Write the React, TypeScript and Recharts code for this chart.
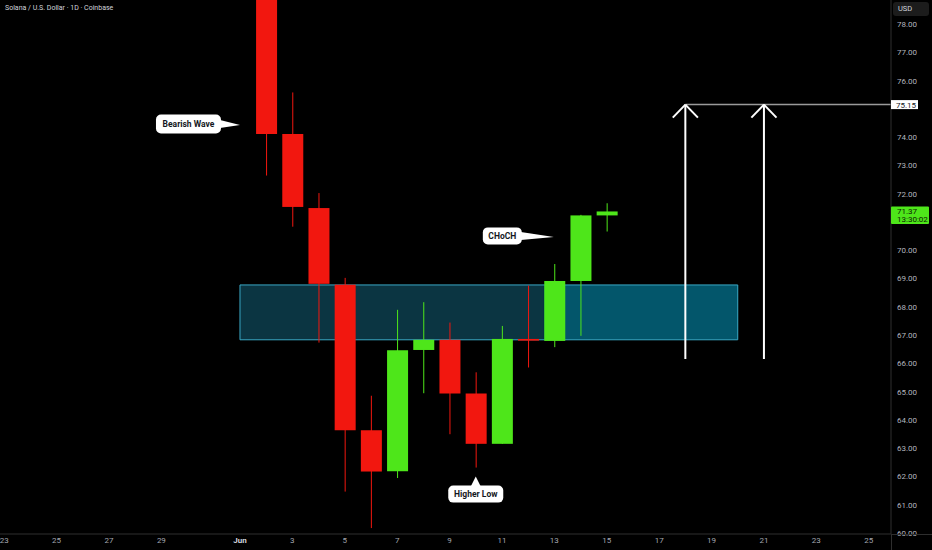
import React from 'react';
import {
  ComposedChart,
  Bar,
  XAxis,
  YAxis,
  ReferenceArea,
  ReferenceLine,
  ReferenceDot,
} from 'recharts';

// days counted from Jun 1 (= 0)
const days = [1, 2, 3, 4, 5, 6, 7, 8, 9, 10, 11, 12, 13, 14];
const opens = [80.3, 74.11, 71.49, 68.78, 63.63, 62.18, 66.47, 66.83, 64.93, 63.15, 66.86, 66.79, 68.91, 71.23];
const highs = [80.9, 75.58, 72.02, 69.02, 64.85, 67.89, 68.16, 67.44, 65.68, 67.32, 68.75, 69.51, 71.25, 71.66];
const lows = [72.64, 70.83, 66.73, 61.46, 60.17, 61.94, 64.94, 63.49, 62.31, 63.15, 65.85, 66.57, 66.97, 70.66];
const closes = [74.11, 71.53, 68.81, 63.63, 62.17, 66.46, 66.83, 64.93, 63.15, 66.86, 66.8, 68.91, 71.23, 71.37];

const xTicks = [-9, -7, -5, -3, 0, 2, 4, 6, 8, 10, 12, 14, 16, 18, 20, 22, 24];
const xTickLabels = ['23', '25', '27', '29', 'Jun', '3', '5', '7', '9', '11', '13', '15', '17', '19', '21', '23', '25'];
// 71.00 and 75.00 sit under the price badges
const priceTicks = [60, 61, 62, 63, 64, 65, 66, 67, 68, 69, 70, 72, 73, 74, 76, 77, 78];

const zone = { from: 0, split: 11.6, to: 19, low: 66.83, high: 68.77 };
const target = 75.15;
const lastPrice = 71.37;
const countdown = '13:30:02';
const arrowDays = [17, 20];
const arrowBase = 66.15;

const RED = '#f2170f';
const GREEN = '#4ee61a';

const candles = days.map((d, i) => ({
  day: d,
  o: opens[i],
  h: highs[i],
  l: lows[i],
  c: closes[i],
  range: [lows[i], highs[i]],
}));

const Candle = (props: any) => {
  const { x, y, width, height, payload } = props;
  const { o, h, l, c } = payload;
  const top = Math.min(y, y + height);
  const span = Math.abs(height);
  const ppu = span / (h - l);
  const bodyTop = top + (h - Math.max(o, c)) * ppu;
  const bodyH = Math.max(1, Math.abs(o - c) * ppu);
  const color = c >= o ? GREEN : RED;
  const cx = x + width / 2;
  return (
    <g>
      <line x1={cx} x2={cx} y1={top} y2={top + span} stroke={color} strokeWidth={1} />
      <rect x={x} y={bodyTop} width={width} height={bodyH} fill={color} />
    </g>
  );
};

const Callout = ({ cx, cy, text, w, h, gap, dir }: any) => {
  let bx: number, by: number, tri: string;
  if (dir === 'up') {
    bx = cx - w / 2;
    by = cy + gap;
    tri = `${cx - 5},${by + 1} ${cx},${cy} ${cx + 5},${by + 1}`;
  } else {
    bx = cx - gap - w;
    by = cy - h / 2 - 1;
    tri = `${bx + w - 1},${cy - 5} ${cx},${cy} ${bx + w - 1},${cy + 3}`;
  }
  return (
    <g>
      <rect x={bx} y={by} width={w} height={h} rx={5} fill="#ffffff" />
      <polygon points={tri} fill="#ffffff" />
      <text
        x={bx + w / 2}
        y={by + h / 2}
        dy={3}
        textAnchor="middle"
        fontSize={8.5}
        fontWeight={700}
        fontFamily="Roboto, sans-serif"
        fill="#131722"
      >
        {text}
      </text>
    </g>
  );
};

const PriceTick = (props: any) => {
  const { x, y, payload } = props;
  const v = payload.value;
  if (v === target) {
    return (
      <g>
        <rect x={x - 6} y={y - 4.5} width={27} height={9} fill="#ffffff" />
        <text x={x - 1} y={y} dy={3} fontSize={8} fontFamily="Roboto, sans-serif" fill="#131722">
          {v.toFixed(2)}
        </text>
      </g>
    );
  }
  if (v === lastPrice) {
    return (
      <g>
        <rect x={x - 6} y={y - 5} width={38} height={17.5} rx={1} fill={GREEN} />
        <text x={x} y={y} dy={2.5} fontSize={8} fontFamily="Roboto, sans-serif" fill="#0d1a05">
          {v.toFixed(2)}
        </text>
        <text x={x} y={y + 8} dy={2.5} fontSize={8} fontFamily="Roboto, sans-serif" fill="#0d1a05">
          {countdown}
        </text>
      </g>
    );
  }
  return (
    <text x={x} y={y} dy={3} fontSize={8} fontFamily="Roboto, sans-serif" fill="#b2b5be">
      {v.toFixed(2)}
    </text>
  );
};

const DateTick = (props: any) => {
  const { x, y, payload } = props;
  const i = xTicks.indexOf(payload.value);
  const label = xTickLabels[i];
  const isMonth = label === 'Jun';
  return (
    <text
      x={x}
      y={y}
      dy={7}
      textAnchor="middle"
      fontSize={8}
      fontWeight={isMonth ? 700 : 400}
      fontFamily="Roboto, sans-serif"
      fill={isMonth ? '#d1d4dc' : '#a3a6af'}
    >
      {label}
    </text>
  );
};

export default function App() {
  return (
    <div style={{ position: 'fixed', left: 0, top: 0, width: 932, height: 550, background: '#000' }}>
      <ComposedChart
        width={932}
        height={550}
        data={candles}
        margin={{ top: 0, right: 0, bottom: 0, left: 0 }}
      >
        <XAxis
          dataKey="day"
          type="number"
          domain={[-9.16, 24.85]}
          allowDataOverflow
          ticks={xTicks}
          interval={0}
          tick={<DateTick />}
          tickLine={false}
          tickSize={0}
          tickMargin={2}
          height={16}
          axisLine={{ stroke: '#2e2e2e' }}
        />
        <YAxis
          orientation="right"
          type="number"
          domain={[59.96, 78.85]}
          allowDataOverflow
          ticks={[...priceTicks, target, lastPrice]}
          interval={0}
          tick={<PriceTick />}
          tickLine={false}
          tickSize={0}
          tickMargin={6}
          width={41}
          axisLine={{ stroke: '#2e2e2e' }}
        />
        <ReferenceArea
          x1={zone.from}
          x2={zone.split}
          y1={zone.low}
          y2={zone.high}
          fill="#0b3542"
          fillOpacity={1}
          stroke="none"
        />
        <ReferenceArea
          x1={zone.split}
          x2={zone.to}
          y1={zone.low}
          y2={zone.high}
          fill="#03566b"
          fillOpacity={1}
          stroke="none"
        />
        <ReferenceArea
          x1={zone.from}
          x2={zone.to}
          y1={zone.low}
          y2={zone.high}
          fill="none"
          fillOpacity={0}
          stroke="#3aa9c6"
          strokeWidth={1}
        />
        <Bar
          dataKey="range"
          barSize={21}
          shape={<Candle />}
          isAnimationActive={false}
        />
        <ReferenceLine
          segment={[
            { x: arrowDays[0], y: target },
            { x: 24.85, y: target },
          ]}
          stroke="#9a9a9a"
          strokeWidth={1.5}
          ifOverflow="visible"
        />
        {arrowDays.map((d) => (
          <ReferenceLine
            key={`shaft-${d}`}
            segment={[
              { x: d, y: arrowBase },
              { x: d, y: target },
            ]}
            stroke="#ffffff"
            strokeWidth={2}
            ifOverflow="visible"
          />
        ))}
        {arrowDays.map((d) => (
          <ReferenceLine
            key={`headl-${d}`}
            segment={[
              { x: d - 0.48, y: target - 0.46 },
              { x: d, y: target },
            ]}
            stroke="#ffffff"
            strokeWidth={2}
            ifOverflow="visible"
          />
        ))}
        {arrowDays.map((d) => (
          <ReferenceLine
            key={`headr-${d}`}
            segment={[
              { x: d + 0.48, y: target - 0.46 },
              { x: d, y: target },
            ]}
            stroke="#ffffff"
            strokeWidth={2}
            ifOverflow="visible"
          />
        ))}
        <ReferenceDot
          x={0}
          y={74.43}
          r={0}
          ifOverflow="visible"
          shape={(p: any) => <Callout {...p} text="Bearish Wave" w={65} h={19} gap={19} dir="right" />}
        />
        <ReferenceDot
          x={11.98}
          y={70.47}
          r={0}
          ifOverflow="visible"
          shape={(p: any) => <Callout {...p} text="CHoCH" w={39} h={17} gap={32} dir="right" />}
        />
        <ReferenceDot
          x={9}
          y={61.99}
          r={0}
          ifOverflow="visible"
          shape={(p: any) => <Callout {...p} text="Higher Low" w={55} h={17} gap={9} dir="up" />}
        />
      </ComposedChart>
      <div
        style={{
          position: 'absolute',
          left: 5,
          top: 4,
          fontFamily: 'Roboto, sans-serif',
          fontSize: 7,
          color: '#d1d4dc',
          whiteSpace: 'nowrap',
        }}
      >
        Solana / U.S. Dollar · 1D · Coinbase
      </div>
      <div
        style={{
          position: 'absolute',
          left: 893,
          top: 2,
          width: 36,
          height: 14,
          background: '#1c1c1c',
          borderRadius: 3,
          fontFamily: 'Roboto, sans-serif',
          fontSize: 7.5,
          color: '#d1d4dc',
          lineHeight: '14px',
          paddingLeft: 5,
          boxSizing: 'border-box',
        }}
      >
        USD
      </div>
      <div style={{ position: 'absolute', left: 891, top: 534, width: 41, height: 1, background: '#2e2e2e' }} />
      <div style={{ position: 'absolute', left: 891, top: 534, width: 1, height: 16, background: '#2e2e2e' }} />
    </div>
  );
}
